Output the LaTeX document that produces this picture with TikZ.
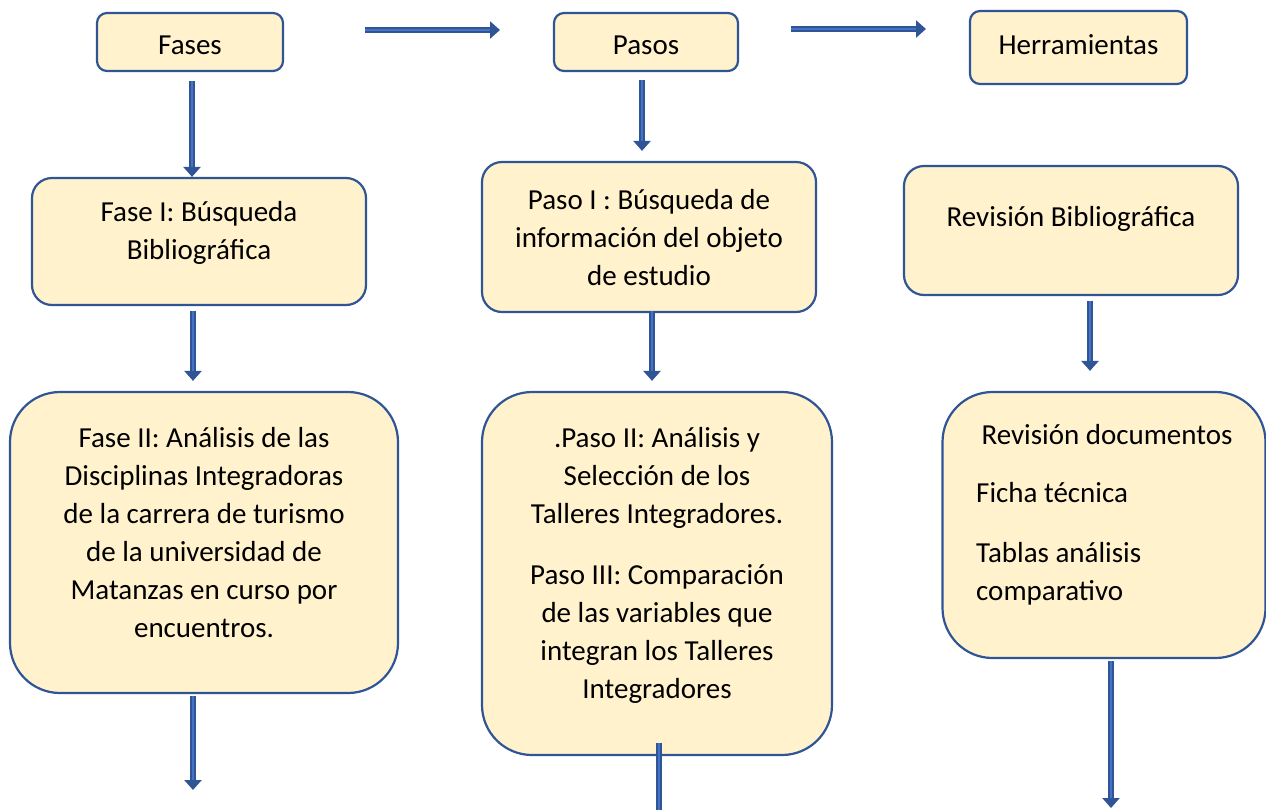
\documentclass[tikz,border=0pt]{standalone}
\usepackage{fontspec}
\setmainfont{Carlito}
\usetikzlibrary{arrows.meta}
\definecolor{boxfill}{HTML}{FFF2CC}
\definecolor{boxline}{HTML}{2F5597}
\definecolor{arrdark}{HTML}{2F5597}
\definecolor{arrlight}{HTML}{4472C4}
\tikzset{
  box/.style={draw=boxline, fill=boxfill, line width=2.2pt, inner sep=0pt},
  txt/.style={font=\fontsize{29}{38}\selectfont, align=center, inner sep=0pt, text=black},
  arr/.style={draw=arrdark, line width=6pt, -{Triangle[width=17pt,length=10pt]}},
  arrinner/.style={draw=arrlight, line width=2pt},
  plainbar/.style={draw=arrdark, line width=6pt}
}
\begin{document}
\begin{tikzpicture}[x=1pt,y=-1pt]
\useasboundingbox (0,0) rectangle (1266,809);
% top row
\node[box, rounded corners=10pt, minimum width=186pt, minimum height=58pt] (fases) at (190,42) {};
\node[txt] at (190,45) {Fases};
\node[box, rounded corners=10pt, minimum width=184pt, minimum height=58pt] (pasos) at (646,42) {};
\node[txt] at (646,45) {Pasos};
\node[box, rounded corners=10pt, minimum width=217pt, minimum height=73pt] (herr) at (1078.5,47.5) {};
\node[txt] at (1078.5,45) {Herramientas};
% second row
\node[box, rounded corners=20pt, minimum width=334pt, minimum height=127pt] (f1) at (199,241.5) {};
\node[txt] at (199,233) {Fase I: Búsqueda\\Bibliográfica};
\node[box, rounded corners=20pt, minimum width=334pt, minimum height=150pt] (p1) at (649,237) {};
\node[txt] at (649,238) {Paso I : Búsqueda de\\información del objeto\\de estudio};
\node[box, rounded corners=20pt, minimum width=334pt, minimum height=129pt] (rb) at (1071,230.5) {};
\node[txt] at (1071,219) {Revisión Bibliográfica};
% third row
\node[box, rounded corners=50pt, minimum width=388pt, minimum height=301pt] (f2) at (204,542.5) {};
\node[txt] at (204,533) {Fase II: Análisis de las\\Disciplinas Integradoras\\de la carrera de turismo\\de la universidad de\\Matanzas en curso por\\encuentros.};
\node[box, rounded corners=50pt, minimum width=350pt, minimum height=363pt] (p2) at (657,573.5) {};
\node[txt] at (657,565) {.Paso II: Análisis y\\Selección de los\\Talleres Integradores.\\[23pt]Paso III: Comparación\\de las variables que\\integran los Talleres\\Integradores};
\node[box, rounded corners=50pt, minimum width=323pt, minimum height=266pt] (rd) at (1104,525) {};
\node[txt] at (1107,435) {Revisión documentos};
\node[txt, align=left, anchor=west] at (976,544) {Ficha técnica\\[22pt]Tablas análisis\\comparativo};
% horizontal arrows
\coordinate (h1s) at (365,30);
\coordinate (h1e) at (500,30);
\coordinate (h2s) at (791,29);
\coordinate (h2e) at (926,29);
\draw[arr] (h1s) -- (h1e);
\draw[arrinner] (h1s) -- ([xshift=-10pt]h1e);
\draw[arr] (h2s) -- (h2e);
\draw[arrinner] (h2s) -- ([xshift=-10pt]h2e);
% vertical arrows
\draw[arr] ([xshift=2pt,yshift=-9pt]fases.south) -- ([xshift=2pt]fases.south |- f1.north);
\draw[arrinner] ([xshift=2pt,yshift=-9pt]fases.south) -- ([xshift=2pt,yshift=10pt]fases.south |- f1.north);
\draw[arr] ([xshift=-6pt,yshift=-5pt]f1.south) -- ([xshift=-6pt,yshift=10pt]f1.south |- f2.north);
\draw[arrinner] ([xshift=-6pt,yshift=-5pt]f1.south) -- ([xshift=-6pt,yshift=20pt]f1.south |- f2.north);
\coordinate (f2end) at (193,790);
\draw[arr] ([xshift=-11pt,yshift=-2pt]f2.south) -- (f2end);
\draw[arrinner] ([xshift=-11pt,yshift=-2pt]f2.south) -- ([yshift=10pt]f2end);
\draw[arr] ([xshift=-4pt,yshift=-8pt]pasos.south) -- ([xshift=-4pt,yshift=10pt]pasos.south |- p1.north);
\draw[arrinner] ([xshift=-4pt,yshift=-8pt]pasos.south) -- ([xshift=-4pt,yshift=20pt]pasos.south |- p1.north);
\draw[arr] ([xshift=3pt,yshift=2pt]p1.south) -- ([xshift=3pt,yshift=10pt]p1.south |- p2.north);
\draw[arrinner] ([xshift=3pt,yshift=2pt]p1.south) -- ([xshift=3pt,yshift=20pt]p1.south |- p2.north);
\coordinate (p2end) at (659,812);
\draw[plainbar] ([xshift=2pt,yshift=13pt]p2.south) -- (p2end);
\draw[arrinner] ([xshift=2pt,yshift=13pt]p2.south) -- (p2end);
\draw[arr] ([xshift=19pt,yshift=-5pt]rb.south) -- ([xshift=19pt,yshift=20pt]rb.south |- rd.north);
\draw[arrinner] ([xshift=19pt,yshift=-5pt]rb.south) -- ([xshift=19pt,yshift=30pt]rb.south |- rd.north);
\coordinate (rdend) at (1111,808);
\draw[arr] ([xshift=7pt,yshift=-2pt]rd.south) -- (rdend);
\draw[arrinner] ([xshift=7pt,yshift=-2pt]rd.south) -- ([yshift=10pt]rdend);
\end{tikzpicture}
\end{document}
